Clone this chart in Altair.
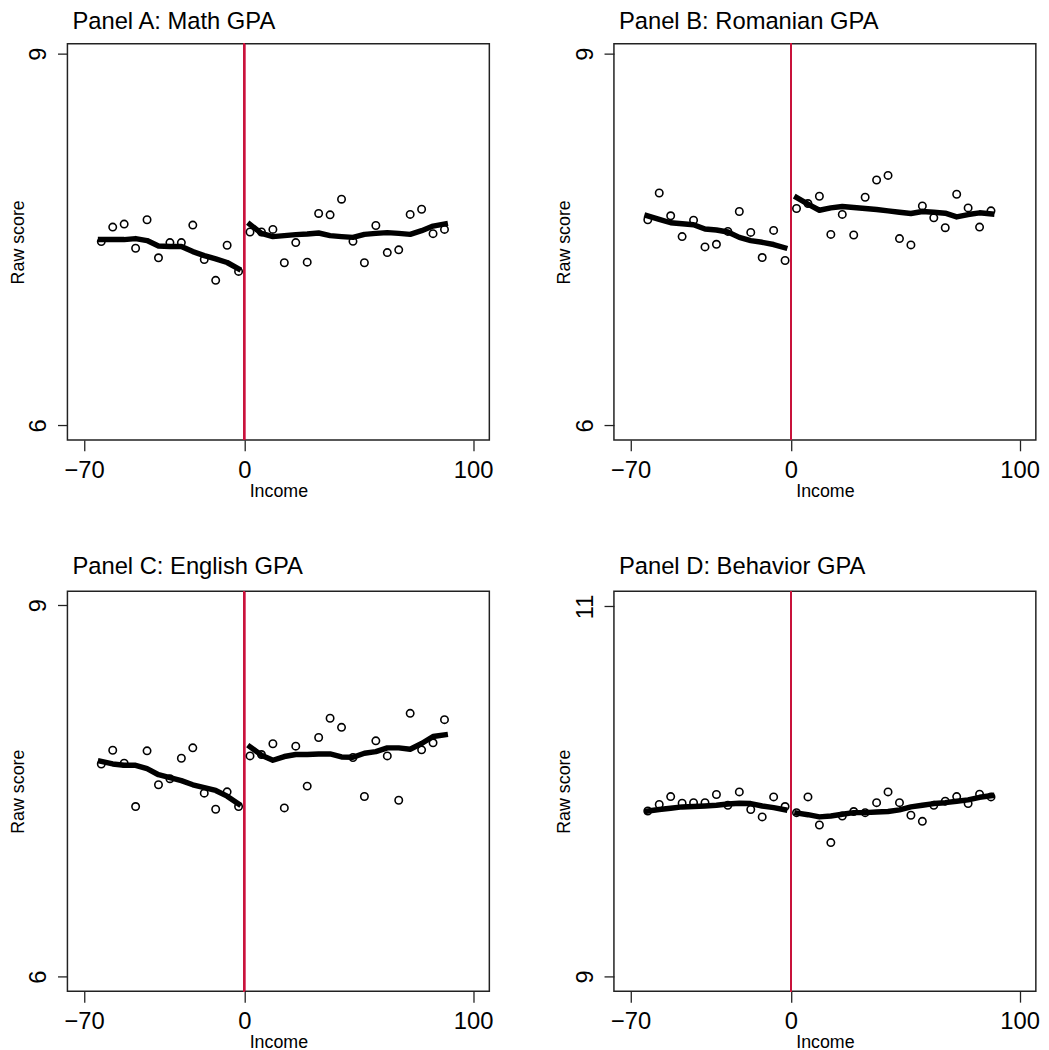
import altair as alt
import pandas as pd

FONT = "Liberation Sans"
RED = "#c8143c"

# bin centres of income (points)
income_left = [-62.5, -57.5, -52.5, -47.5, -42.5, -37.5, -32.5, -27.5, -22.5, -17.5, -12.5, -7.5, -2.5]
income_right = [2.5, 7.5, 12.5, 17.5, 22.5, 27.5, 32.5, 37.5, 42.5, 47.5, 52.5, 57.5, 62.5,
                67.5, 72.5, 77.5, 82.5, 87.5]
# x positions of the smoothed fit
fit_x_left = [-64, -57.5, -52.5, -47.5, -42.5, -37.5, -32.5, -27.5, -22.5, -17.5, -12.5, -7.5, -1.5]
fit_x_right = [1.5, 7.5, 12.5, 17.5, 22.5, 27.5, 32.5, 37.5, 42.5, 47.5, 52.5, 57.5, 62.5,
               67.5, 72.5, 77.5, 82.5, 89]

x_ticks = [-70, 0, 100]

# Panel A: Math GPA
math_pts_left = [7.483, 7.600, 7.624, 7.429, 7.659, 7.352, 7.475, 7.475, 7.616, 7.338, 7.170, 7.453, 7.242]
math_pts_right = [7.560, 7.560, 7.581, 7.312, 7.475, 7.317, 7.710, 7.699, 7.825, 7.485, 7.312, 7.613,
                  7.394, 7.416, 7.702, 7.744, 7.547, 7.581]
math_fit_left = [7.499, 7.499, 7.499, 7.507, 7.491, 7.448, 7.443, 7.443, 7.402, 7.370, 7.344, 7.314, 7.253]
math_fit_right = [7.636, 7.549, 7.523, 7.531, 7.539, 7.544, 7.552, 7.531, 7.523, 7.517, 7.541, 7.549,
                  7.555, 7.549, 7.541, 7.571, 7.608, 7.630]

# Panel B: Romanian GPA
rom_pts_left = [7.659, 7.875, 7.691, 7.523, 7.656, 7.440, 7.461, 7.565, 7.726, 7.557, 7.354, 7.573, 7.330]
rom_pts_right = [7.750, 7.790, 7.849, 7.541, 7.702, 7.536, 7.841, 7.980, 8.017, 7.507, 7.456, 7.771,
                 7.675, 7.595, 7.865, 7.755, 7.600, 7.731]
rom_fit_left = [7.699, 7.662, 7.635, 7.627, 7.619, 7.584, 7.576, 7.560, 7.517, 7.491, 7.477, 7.459, 7.427]
rom_fit_right = [7.849, 7.785, 7.736, 7.755, 7.766, 7.758, 7.750, 7.742, 7.731, 7.720, 7.710, 7.726,
                 7.720, 7.712, 7.682, 7.701, 7.715, 7.704]

# Panel C: English GPA
eng_pts_left = [7.718, 7.829, 7.724, 7.374, 7.824, 7.550, 7.599, 7.764, 7.848, 7.482, 7.352, 7.493, 7.374]
eng_pts_right = [7.783, 7.794, 7.881, 7.363, 7.862, 7.539, 7.932, 8.087, 8.014, 7.770, 7.455, 7.905,
                 7.783, 7.425, 8.127, 7.832, 7.889, 8.076]
eng_fit_left = [7.745, 7.718, 7.707, 7.707, 7.680, 7.631, 7.607, 7.583, 7.550, 7.526, 7.504, 7.458, 7.382]
eng_fit_right = [7.870, 7.789, 7.748, 7.778, 7.794, 7.794, 7.799, 7.799, 7.775, 7.772, 7.805, 7.818,
                 7.848, 7.848, 7.837, 7.883, 7.940, 7.957]

# Panel D: Behavior GPA
beh_pts_left = [9.894, 9.929, 9.972, 9.936, 9.939, 9.939, 9.983, 9.925, 9.997, 9.902, 9.862, 9.970, 9.918]
beh_pts_right = [9.885, 9.970, 9.818, 9.723, 9.867, 9.891, 9.885, 9.939, 9.997, 9.939, 9.871, 9.838,
                 9.925, 9.947, 9.972, 9.934, 9.985, 9.970]
beh_fit_left = [9.891, 9.902, 9.909, 9.916, 9.918, 9.921, 9.925, 9.932, 9.936, 9.934, 9.921, 9.912, 9.898]
beh_fit_right = [9.885, 9.874, 9.862, 9.867, 9.876, 9.885, 9.885, 9.889, 9.891, 9.900, 9.916, 9.925,
                 9.934, 9.939, 9.947, 9.954, 9.968, 9.979]

X_DOMAIN = [-77.3, 107.1]
PANEL_W = 426


def panel(title, pl, pr, fl, fr, ydom, yticks, height, title_offset):
    pts = pd.DataFrame({"income": income_left + income_right, "score": pl + pr})
    fit = pd.DataFrame({
        "income": fit_x_left + fit_x_right,
        "score": fl + fr,
        "side": ["left"] * len(fit_x_left) + ["right"] * len(fit_x_right),
    })
    x = alt.X(
        "income:Q",
        scale=alt.Scale(domain=X_DOMAIN, nice=False, zero=False),
        axis=alt.Axis(values=x_ticks, title="Income", format="d", tickSize=11,
                      labelPadding=27, labelBaseline="alphabetic", labelFlush=False,
                      titleBaseline="alphabetic", titleY=57),
    )
    y = alt.Y(
        "score:Q",
        scale=alt.Scale(domain=ydom, nice=False, zero=False),
        axis=alt.Axis(values=yticks, title="Raw score", format="d", tickSize=10,
                      labelPadding=12, labelAngle=270, labelAlign="center",
                      labelBaseline="alphabetic", labelFlush=False,
                      titleAngle=270, titleBaseline="alphabetic", titleX=-44.5),
    )
    rule = alt.Chart(pts).mark_rule(color=RED, strokeWidth=1.5).encode(x=alt.datum(0))
    points = alt.Chart(pts).mark_point(
        shape="circle", filled=False, color="black", size=56, strokeWidth=1.6, opacity=1
    ).encode(x=x, y=y)
    lines = alt.Chart(fit).mark_line(
        color="black", strokeWidth=5.5, strokeJoin="round"
    ).encode(x="income:Q", y="score:Q", detail="side:N")
    return alt.layer(rule, points, lines).properties(
        width=PANEL_W,
        height=height,
        title=alt.TitleParams(
            text=title, anchor="start", frame="group", fontSize=24, fontWeight="normal",
            font=FONT, color="black", baseline="alphabetic", offset=title_offset, dx=5,
        ),
    )


TOP_H = 400
BOT_H = 404
pa = panel("Panel A: Math GPA", math_pts_left, math_pts_right, math_fit_left, math_fit_right,
           [5.882, 9.08], [6, 9], TOP_H, -10)
pb = panel("Panel B: Romanian GPA", rom_pts_left, rom_pts_right, rom_fit_left, rom_fit_right,
           [5.882, 9.08], [6, 9], TOP_H, -10)
pc = panel("Panel C: English GPA", eng_pts_left, eng_pts_right, eng_fit_left, eng_fit_right,
           [5.882, 9.114], [6, 9], BOT_H, -7)
pd_ = panel("Panel D: Behavior GPA", beh_pts_left, beh_pts_right, beh_fit_left, beh_fit_right,
            [8.919, 11.083], [9, 11], BOT_H, -7)

chart = alt.concat(
    pa, pb, pc, pd_, columns=2, spacing={"row": 152.7, "column": 125.8}, bounds="flush"
).properties(
    padding={"left": 0, "top": -4, "right": 0, "bottom": 0},
    background="white",
).configure_view(
    stroke="#222222", strokeWidth=1.5
).configure_axis(
    grid=False, domain=False, labelFont=FONT, titleFont=FONT, labelFontSize=24,
    titleFontSize=18, titleFontWeight="normal", labelColor="black", titleColor="black",
    tickColor="#222222", tickWidth=1.3,
)

chart.save("out.html", embed_options={"renderer": "svg", "actions": False})
